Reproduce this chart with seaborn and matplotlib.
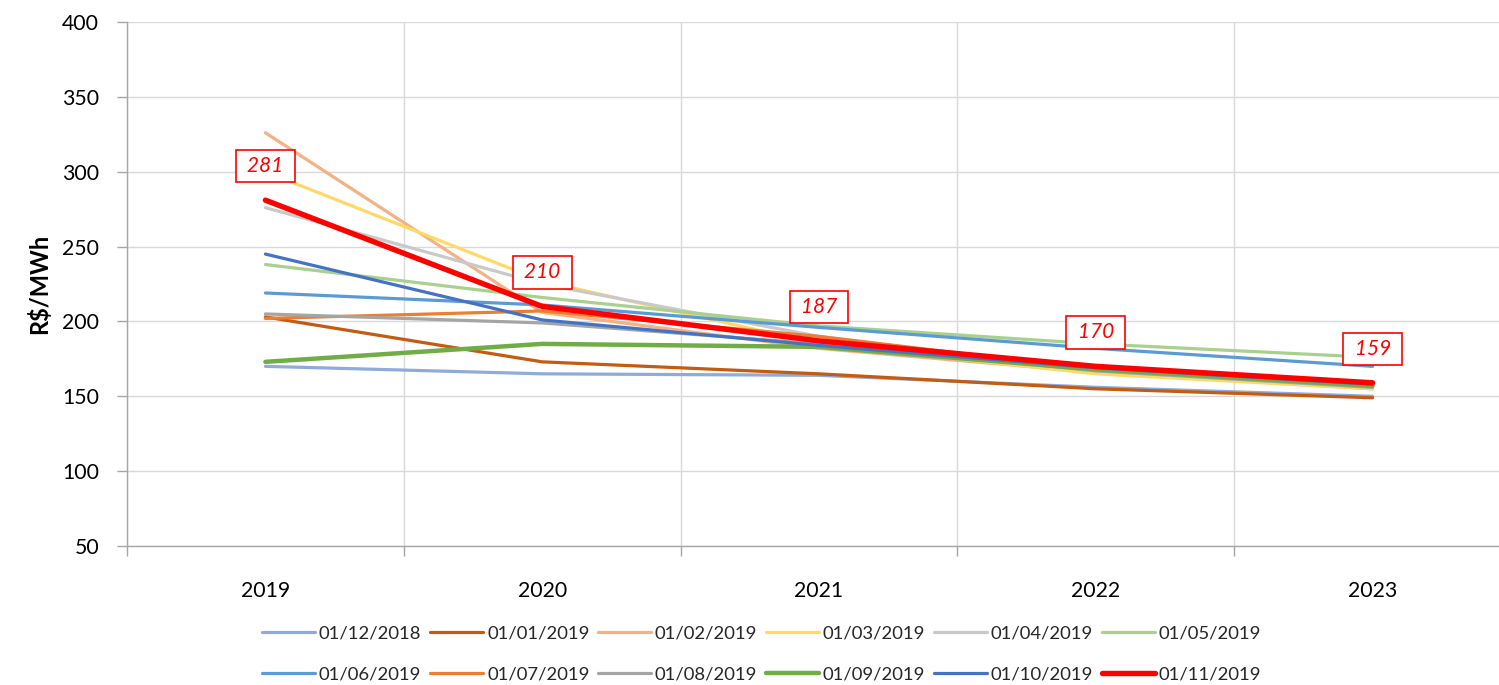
import matplotlib
matplotlib.use("Agg")
import matplotlib.pyplot as plt
import seaborn as sns
import pandas as pd
from matplotlib.ticker import MultipleLocator, FixedLocator

sns.set_theme(style="white")
plt.rcParams['font.family'] = ['Lato', 'DejaVu Sans']

years = [2019, 2020, 2021, 2022, 2023]
series_names = ["01/12/2018", "01/01/2019", "01/02/2019", "01/03/2019", "01/04/2019", "01/05/2019",
                "01/06/2019", "01/07/2019", "01/08/2019", "01/09/2019", "01/10/2019", "01/11/2019"]
v_2018_12 = [170, 165, 164, 156, 150]
v_2019_01 = [203, 173, 165, 155, 149]
v_2019_02 = [326, 206, 182, 166, 155]
v_2019_03 = [300, 227, 185, 165, 155]
v_2019_04 = [276, 225, 190, 167, 156]
v_2019_05 = [238, 216, 197, 185, 176]
v_2019_06 = [219, 211, 196, 182, 170]
v_2019_07 = [202, 207, 190, 168, 157]
v_2019_08 = [205, 199, 185, 167, 156]
v_2019_09 = [173, 185, 183, 168, 157]
v_2019_10 = [245, 201, 184, 169, 158]
v_2019_11 = [281, 210, 187, 170, 159]
all_values = [v_2018_12, v_2019_01, v_2019_02, v_2019_03, v_2019_04, v_2019_05,
              v_2019_06, v_2019_07, v_2019_08, v_2019_09, v_2019_10, v_2019_11]
colors = ["#8FAADC", "#C55A11", "#F4B183", "#FFD966", "#C9C9C9", "#A9D18E",
          "#5B9BD5", "#ED7D31", "#A5A5A5", "#70AD47", "#4472C4", "#FF0000"]
widths = [2.3, 2.3, 2.3, 2.3, 2.3, 2.3, 2.3, 2.3, 2.3, 3.2, 2.3, 3.9]
label_values = v_2019_11

rows = []
for name, vals in zip(series_names, all_values):
    for y, v in zip(years, vals):
        rows.append({"Ano": y, "Valor": v, "Série": name})
df = pd.DataFrame(rows)

fig = plt.figure(figsize=(14.99, 6.85), dpi=100)
ax = fig.add_axes([127/1499, 1-546/685, (1511-127)/1499, (546-22)/685])

for name, col, lw in zip(series_names, colors, widths):
    sub = df[df["Série"] == name]
    sns.lineplot(data=sub, x="Ano", y="Valor", ax=ax, color=col, linewidth=lw,
                 label=name, solid_capstyle="round")

# labels on the red series
for y, v in zip(years, label_values):
    ax.annotate(f" {v} ", xy=(y, v), xytext=(0, 24.5), textcoords="offset points",
                ha="center", va="center", fontsize=15, style="italic", color="#FF0000",
                bbox=dict(boxstyle="square,pad=0.3", fc="white", ec="#FF0000", lw=1.2))

ax.set_xlim(2018.5, 2023.5)
ax.set_ylim(50, 400)
ax.yaxis.set_major_locator(MultipleLocator(50))
ax.xaxis.set_major_locator(FixedLocator(years))
ax.xaxis.set_minor_locator(FixedLocator([2018.5 + k for k in range(6)]))
ax.set_xticklabels([str(y) for y in years])
ax.tick_params(axis="x", which="major", length=0, labelsize=15.3, pad=25, colors="#000000")
ax.tick_params(axis="x", which="minor", length=7, width=1, color="#A6A6A6", direction="out", bottom=True)
ax.tick_params(axis="y", which="major", length=7, width=1, color="#A6A6A6", direction="out", left=True,
               labelsize=15.3, pad=13, labelcolor="#000000")
ax.grid(axis="y", which="major", color="#D9D9D9", linewidth=1)
ax.grid(axis="x", which="minor", color="#D9D9D9", linewidth=1)
ax.grid(axis="x", which="major", visible=False)
for s in ["top", "right"]:
    ax.spines[s].set_visible(False)
for s in ["left", "bottom"]:
    ax.spines[s].set_color("#A6A6A6")
    ax.spines[s].set_linewidth(1)
ax.set_xlabel("")
ax.set_ylabel("R$/MWh", fontsize=17, fontweight="bold", labelpad=8, color="#000000")
ax.set_facecolor("none")

ax.legend_.remove()
handles, labels = ax.get_legend_handles_labels()
order = []
for c in range(6):
    order += [c, c + 6]
fig.legend([handles[i] for i in order], [labels[i] for i in order], loc="center",
           bbox_to_anchor=(0.508, 1-654/685), ncol=6, frameon=False,
           fontsize=13.3, handlelength=2.9, handletextpad=0.2, columnspacing=0.45, labelspacing=1.35)

fig.savefig("out.png", dpi=100, facecolor="white")
